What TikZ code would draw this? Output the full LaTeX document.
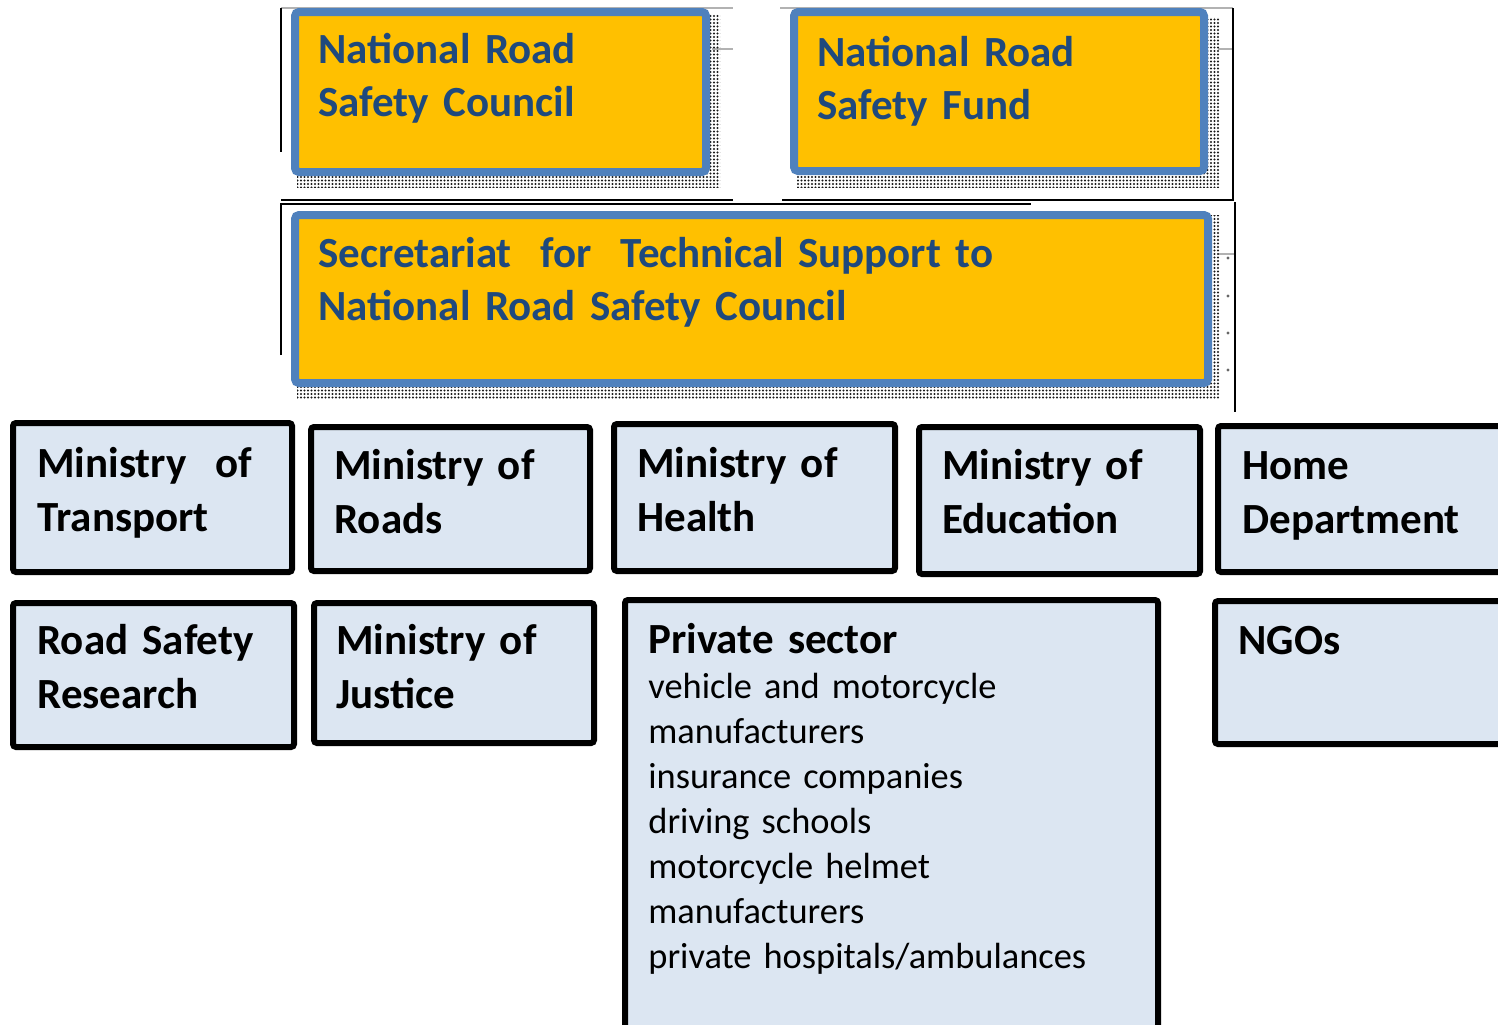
\documentclass[tikz,border=0pt]{standalone}
\usepackage{fontspec}
\setmainfont{Carlito}
\usetikzlibrary{fit,patterns.meta}
\definecolor{gold}{HTML}{FFC000}
\definecolor{frameblue}{HTML}{4F81BD}
\definecolor{navy}{HTML}{1F497D}
\definecolor{paleblue}{HTML}{DCE6F2}
\tikzstyle{council}=[rectangle, draw=frameblue, line width=4pt, fill=gold, rounded corners=2pt, inner sep=0pt]
\tikzstyle{dotshadow}=[rectangle, inner sep=0pt, pattern={Dots[distance=1.75pt, radius=0.55pt]}, pattern color=black!90]
\tikzstyle{ministry}=[rectangle, draw=black, line width=3pt, fill=paleblue, rounded corners=1.5pt, inner sep=0pt]
\tikzstyle{ctext}=[anchor=base west, inner sep=0pt, text width=400pt, text=navy, font={\fontsize{21.5}{26.5}\selectfont\bfseries}]
\tikzstyle{mtext}=[anchor=base west, inner sep=0pt, text width=140pt, font={\fontsize{21.5}{27}\selectfont\bfseries}]
\tikzstyle{list}=[anchor=base west, inner sep=0pt, text width=240pt, font={\fontsize{18.2}{22.5}\selectfont}]
\tikzstyle{edge}=[black, line width=0.6pt]
\tikzstyle{faint}=[black!30, line width=0.6pt]

\begin{document}
\begin{tikzpicture}[x=0.5pt, y=-0.5pt]
			\fill[white] (0,0) rectangle (1498,1024);
			\useasboundingbox (0,0) rectangle (1498,1024);

			%The frame edges
			\draw[faint] (281,8) -- (733,8);
			\draw[faint] (712,49) -- (733,49);
			\draw[faint] (780,8) -- (1233,8);
			\draw[faint] (1218,49) -- (1233,49);
			\draw[faint] (1218,254) -- (1235,254);
			\draw[edge] (281,8) -- (281,152);
			\draw[edge] (281,200) -- (733,200);
			\draw[edge] (782,200) -- (1233,200) -- (1233,8);
			\draw[edge] (281,355) -- (281,204) -- (1031,204);
			\draw[edge] (1235,202) -- (1235,412);
			\foreach \y in {258,296,333,370}
				\fill[black!60] (1228,\y) circle (0.8pt);

			%The councils
			\node[dotshadow, fit={(297,14) (720,187)}] (nrsc-shadow) {};
			\node[council, fit={(295,12) (706,172)}] (nrsc) {};
			\node[ctext] (nrsc-text) at (318,63) {National Road\\Safety Council};

			\node[dotshadow, fit={(797,17) (1220,187)}] (nrsf-shadow) {};
			\node[council, fit={(794,12) (1204,171)}] (nrsf) {};
			\node[ctext] (nrsf-text) at (817,66) {National Road\\Safety Fund};

			%The secretariat
			\node[dotshadow, fit={(297,215) (1220,398)}] (sec-shadow) {};
			\node[council, fit={(295,215) (1208,383)}] (sec) {};
			\node[ctext] (sec-text) at (318,267) {Secretariat\ \ for\ \ Technical Support to\\National Road Safety Council};

			%The first row
			\node[ministry, fit={(13,423) (292,572)}] (mot) {};
			\node[mtext] (mot-text) at (37,477) {Ministry\ \ of\\Transport};
			\node[ministry, fit={(311,427) (590,571)}] (mor) {};
			\node[mtext] (mor-text) at (334,479) {Ministry of\\Roads};
			\node[ministry, fit={(614,424) (895,571)}] (moh) {};
			\node[mtext] (moh-text) at (637,477) {Ministry of\\Health};
			\node[ministry, fit={(919,427) (1200,574)}] (moe) {};
			\node[mtext] (moe-text) at (942,479) {Ministry of\\Education};
			\node[ministry, fit={(1218,426) (1512,572)}] (home) {};
			\node[mtext] (home-text) at (1242,479) {Home\\Department};

			%The second row
			\node[ministry, fit={(13,603) (294,747)}] (rsr) {};
			\node[mtext] (rsr-text) at (37,654) {Road Safety\\Research};
			\node[ministry, fit={(314,603) (594,743)}] (moj) {};
			\node[mtext] (moj-text) at (336,654) {Ministry of\\Justice};
			\node[ministry, fit={(625,600) (1158,1040)}] (priv) {};
			\node[mtext] (priv-text) at (648,653) {Private sector};
			\node[list] (priv-list) at (648,698) {vehicle and motorcycle\\manufacturers\\insurance companies\\driving schools\\motorcycle helmet\\manufacturers\\private hospitals/ambulances};
			\node[ministry, fit={(1215,601) (1512,744)}] (ngo) {};
			\node[mtext] (ngo-text) at (1238,654) {NGOs};
		\end{tikzpicture}
\end{document}
